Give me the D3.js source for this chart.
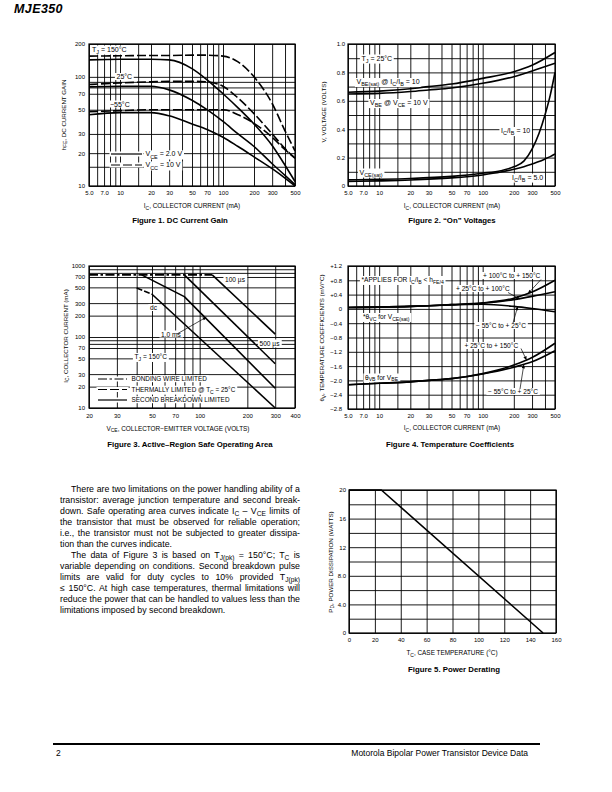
<!DOCTYPE html>
<html>
<head>
<meta charset="utf-8">
<script src="https://cdn.jsdelivr.net/npm/d3@7"></script>
<style>
body { margin: 0; background: #fff; }
text { font-family: "Liberation Sans", Arial, Helvetica, sans-serif; }
.para { position: absolute; left: 60px; top: 484px; width: 240px;
  font-family: "Liberation Sans", Arial, sans-serif; font-size: 8.8px; line-height: 11px; color: #000; }
.ln { text-align: justify; text-align-last: justify; }
.ln.last { text-align-last: left; }
.para sub { font-size: 76%; line-height: 0; vertical-align: -0.3em; }
</style>
</head>
<body>
<svg id="page" width="612" height="792"></svg>
<script>
// ---------------- data ----------------
// Figure 1 - DC current gain (IC in mA)
var icGain = [5, 10, 20, 30, 50, 70, 100, 140, 200, 300, 400, 500];
var hfe150Vce2 = [143, 145, 145, 143, 119, 94, 70, 52, 37, 23.5, 15.5, 11];
var hfe25Vce2 = [81, 82, 82, 76, 61, 50, 39, 30, 23, 16, 12.5, 10.3];
var hfeM55Vce2 = [45, 47, 47, 44, 37, 33, 28, 23, 18.5, 14.4, 11.8, 10];
var hfe150Vcc10 = [155, 156, 157, 157, 158, 158, 155, 137, 100, 57, 32, 21];
var hfe25Vcc10 = [85, 88, 90, 91, 91, 90, 82, 64, 46, 30, 22, 18];
var hfeM55Vcc10 = [48, 49, 50, 50, 50, 50, 50, 45, 37.5, 28, 21.5, 18];

// Figure 2 - "On" voltages
var icOn = [5, 10, 20, 30, 50, 100, 200, 300, 500];
var vbeSat = [0.66, 0.668, 0.685, 0.70, 0.718, 0.758, 0.805, 0.85, 0.94];
var vbeOn = [0.648, 0.652, 0.665, 0.676, 0.69, 0.723, 0.77, 0.81, 0.864];
var icSat = [5, 10, 20, 50, 100, 150, 200, 250, 300, 350, 400, 450, 500];
var vceSat10 = [0.043, 0.047, 0.053, 0.068, 0.09, 0.108, 0.135, 0.175, 0.26, 0.37, 0.5, 0.64, 0.8];
var vceSat5 = [0.032, 0.036, 0.042, 0.057, 0.078, 0.098, 0.118, 0.136, 0.155, 0.172, 0.19, 0.207, 0.225];

// Figure 3 - safe operating area (VCE volts, IC mA)
var bondV = [20, 120], bondI = [750, 750];
var dcThermV = [40, 50], dcThermI = [490, 400];
var dcV = [50, 300], dcI = [400, 10];
var ms1V = [43, 80, 300], ms1I = [750, 370, 19];
var us500V = [80, 300], us500I = [750, 42];
var us100V = [120, 300], us100I = [750, 110];

// Figure 4 - temperature coefficients (mV/°C)
var icTc = [5, 10, 20, 30, 50, 100, 200, 300, 500];
var tcVc100to150 = [0.04, 0.05, 0.07, 0.09, 0.12, 0.17, 0.3, 0.47, 0.8];
var tcVc25to100 = [0.04, 0.05, 0.07, 0.09, 0.12, 0.16, 0.26, 0.35, 0.48];
var tcVcM55to25 = [0.04, 0.05, 0.07, 0.09, 0.11, 0.13, 0.07, 0.01, -0.08];
var tcVb25to150 = [-2.12, -2.08, -2.04, -2.0, -1.95, -1.81, -1.57, -1.36, -0.96];
var tcVbM55to25 = [-2.12, -2.08, -2.04, -2.0, -1.95, -1.82, -1.63, -1.48, -1.17];

// Figure 5 - power derating
var caseTemp = [0, 25, 150];
var powerDiss = [20, 20, 0];

// grids and tick labels
var icGrid = [5, 6, 7, 8, 9, 10, 15, 20, 30, 40, 50, 60, 70, 80, 90, 100, 200, 300, 400, 500];
var icTicks = [5, 7, 10, 20, 30, 50, 70, 100, 200, 300, 500];
var icLabels = ["5.0", "7.0", "10", "20", "30", "50", "70", "100", "200", "300", "500"];
var hfeGrid = [10, 15, 20, 30, 50, 70, 80, 90, 100, 200];
var hfeTicks = [10, 20, 30, 50, 70, 100, 200];
var voltGrid = [0, 0.1, 0.2, 0.3, 0.4, 0.5, 0.6, 0.7, 0.8, 0.9, 1.0];
var voltTicks = [0, 0.2, 0.4, 0.6, 0.8, 1.0];
var voltLabels = ["0", "0.2", "0.4", "0.6", "0.8", "1.0"];
var vceGrid = [20, 30, 40, 50, 60, 70, 80, 90, 100, 200, 300, 400];
var vceTicks = [20, 30, 50, 70, 100, 200, 300, 400];
var soaGrid = [10, 20, 30, 50, 70, 80, 90, 100, 200, 300, 500, 700, 800, 900, 1000];
var soaTicks = [10, 20, 30, 50, 70, 100, 200, 300, 500, 700, 1000];
var tcGrid = [-2.8, -2.4, -2.0, -1.6, -1.2, -0.8, -0.4, 0, 0.4, 0.8, 1.2];
var tcLabels = ["\u22122.8", "\u22122.4", "\u22122.0", "\u22121.6", "\u22121.2", "\u22120.8", "\u22120.4", "0", "+0.4", "+0.8", "+1.2"];
var tempGrid = [0, 20, 40, 60, 80, 100, 120, 140, 160];
var pdGrid = [0, 2, 4, 6, 8, 10, 12, 14, 16, 18, 20];
var pdTicks = [0, 4, 8, 12, 16, 20];
var pdLabels = ["0", "4.0", "8.0", "12", "16", "20"];

var paraLines = [
  {t: "There are two limitations on the power handling ability of a", indent: true},
  {t: "transistor: average junction temperature and second break-"},
  {t: "down. Safe operating area curves indicate I<sub>C</sub> \u2013 V<sub>CE</sub> limits of"},
  {t: "the transistor that must be observed for reliable operation;"},
  {t: "i.e., the transistor must not be subjected to greater dissipa-"},
  {t: "tion than the curves indicate.", last: true},
  {t: "The data of Figure 3 is based on T<sub>J(pk)</sub> = 150\u00b0C; T<sub>C</sub> is", indent: true},
  {t: "variable depending on conditions. Second breakdown pulse"},
  {t: "limits are valid for duty cycles to 10% provided T<sub>J(pk)</sub>"},
  {t: "\u2264 150\u00b0C. At high case temperatures, thermal limitations will"},
  {t: "reduce the power that can be handled to values less than the"},
  {t: "limitations imposed by second breakdown.", last: true}
];

// ---------------- helpers ----------------
var svg = d3.select("#page");
var FONT = '"Liberation Sans", Arial, Helvetica, sans-serif';

svg.append("defs").append("marker")
  .attr("id", "arr").attr("viewBox", "0 0 10 10")
  .attr("refX", 10).attr("refY", 5)
  .attr("markerUnits", "userSpaceOnUse")
  .attr("markerWidth", 4.5).attr("markerHeight", 3.5)
  .attr("orient", "auto")
  .append("path").attr("d", "M0,0L10,5L0,10z").attr("fill", "#000");

// text with _{subscript} parts
function rich(t, str, size) {
  var back = 0;
  str.split(/(_\{[^}]*\})/).forEach(function (p) {
    if (!p) return;
    if (p.slice(0, 2) == "_{") {
      t.append("tspan").attr("dy", size * 0.3 - back).attr("font-size", size * 0.78).text(p.slice(2, -1));
      back = size * 0.3;
    } else {
      t.append("tspan").attr("dy", -back).text(p);
      back = 0;
    }
  });
}

function label(x, y, str, o) {
  o = o || {};
  var size = o.size || 6.6;
  var t = svg.append("text")
    .attr("font-size", size)
    .attr("fill", "#000")
    .attr("text-anchor", o.anchor || "start");
  if (o.bold) t.attr("font-weight", "bold");
  if (o.rotate) t.attr("transform", "translate(" + x + "," + y + ") rotate(-90)");
  else t.attr("x", x).attr("y", y);
  rich(t, str, size);
  if (o.bg) {
    var b = t.node().getBBox();
    svg.insert("rect", function () { return t.node(); })
      .attr("x", b.x - 1.6).attr("y", b.y)
      .attr("width", b.width + 3.2).attr("height", b.height)
      .attr("fill", "#fff");
  }
  return t;
}

function legendLine(x1, x2, y, dash) {
  svg.append("rect").attr("x", x1 - 1.5).attr("y", y - 2.5).attr("width", x2 - x1 + 3).attr("height", 5).attr("fill", "#fff");
  svg.append("line").attr("x1", x1).attr("x2", x2).attr("y1", y).attr("y2", y)
    .attr("stroke", "#000").attr("stroke-width", 1.2)
    .attr("stroke-dasharray", dash || null);
}

function clean(a, size) {
  a.select(".domain").remove();
  a.attr("font-size", size || 6).attr("font-family", FONT);
  a.selectAll("line").attr("stroke", "#000").attr("stroke-width", 0.9);
  a.selectAll("text").attr("fill", "#000");
}

function panel(pos, x, y, xGrid, yGrid, xTicks, xLabels, yTicks, yLabels, xPad, yPad) {
  var w = x.range()[1], h = y.range()[0];
  var g = svg.append("g").attr("transform", "translate(" + pos.left + "," + pos.top + ")");
  g.append("g").attr("transform", "translate(0," + h + ")")
    .call(d3.axisBottom(x).tickValues(xGrid).tickSize(-h).tickFormat(""))
    .call(clean);
  g.append("g")
    .call(d3.axisLeft(y).tickValues(yGrid).tickSize(-w).tickFormat(""))
    .call(clean);
  g.append("g").attr("transform", "translate(0," + h + ")")
    .call(d3.axisBottom(x).tickValues(xTicks).tickSize(0).tickPadding(xPad)
      .tickFormat(function (d, i) { return xLabels[i]; }))
    .call(clean);
  g.append("g")
    .call(d3.axisLeft(y).tickValues(yTicks).tickSize(0).tickPadding(yPad)
      .tickFormat(function (d, i) { return yLabels[i]; }))
    .call(clean);
  return g;
}

function layer(pos) {
  return svg.append("g").attr("transform", "translate(" + pos.left + "," + pos.top + ")");
}

function plot(g, x, y, xs, ys, dash, smooth) {
  var line = d3.line()
    .x(function (d) { return x(d[0]); })
    .y(function (d) { return y(d[1]); })
    .curve(smooth ? d3.curveMonotoneX : d3.curveLinear);
  g.append("path")
    .datum(xs.map(function (v, i) { return [v, ys[i]]; }))
    .attr("d", line)
    .attr("fill", "none")
    .attr("stroke", "#000")
    .attr("stroke-width", 1.6)
    .attr("stroke-linejoin", "round")
    .attr("stroke-dasharray", dash || null);
}

function frame(g, x, y) {
  g.append("rect").attr("width", x.range()[1]).attr("height", y.range()[0])
    .attr("fill", "none").attr("stroke", "#000").attr("stroke-width", 1.2);
}

// arrow from a pixel point (page) to a data point of a panel
function arrow(g, x, y, fromX, fromY, tip) {
  g.append("line")
    .attr("x1", fromX).attr("y1", fromY)
    .attr("x2", x(tip[0])).attr("y2", y(tip[1]))
    .attr("stroke", "#000").attr("stroke-width", 0.7)
    .attr("marker-end", "url(#arr)");
}

// ---------------- header ----------------
svg.append("text").attr("x", 14).attr("y", 12.5)
  .attr("font-size", 12.5).attr("font-weight", "bold").attr("font-style", "italic")
  .attr("letter-spacing", 0.4)
  .text("MJE350");

// ---------------- Figure 1 ----------------
var P1 = {left: 89, top: 44};
var x1 = d3.scaleLog().domain([5, 500]).range([0, 206]);
var y1 = d3.scaleLog().domain([10, 200]).range([142, 0]);
panel(P1, x1, y1, icGrid, hfeGrid, icTicks, icLabels, hfeTicks, hfeTicks.map(String), 4.5, 4);
label(92, 51.5, "T_{J} = 150\u00b0C", {bg: true, size: 7});
label(116.5, 79, "25\u00b0C", {bg: true, size: 7});
label(110, 106.5, "\u221255\u00b0C", {bg: true, size: 7});
legendLine(111, 142, 154);
label(145.5, 156.4, "V_{CE} = 2.0 V", {bg: true, size: 7});
legendLine(111, 142, 165, "9,3");
label(145.5, 167.4, "V_{CC} = 10 V", {bg: true, size: 7});
var c1 = layer(P1);
plot(c1, x1, y1, icGain, hfe150Vce2, null, true);
plot(c1, x1, y1, icGain, hfe25Vce2, null, true);
plot(c1, x1, y1, icGain, hfeM55Vce2, null, true);
plot(c1, x1, y1, icGain, hfe150Vcc10, "9,3", true);
plot(c1, x1, y1, icGain, hfe25Vcc10, "9,3", true);
plot(c1, x1, y1, icGain, hfeM55Vcc10, "9,3", true);
frame(c1, x1, y1);
label(65.5, 115, "h_{FE}, DC CURRENT GAIN", {rotate: true, anchor: "middle", size: 6.2});
label(192, 208, "I_{C}, COLLECTOR CURRENT (mA)", {anchor: "middle", size: 6.4});
label(180, 223, "Figure 1. DC Current Gain", {anchor: "middle", size: 7.8, bold: true});

// ---------------- Figure 2 ----------------
var P2 = {left: 348, top: 44};
var x2 = d3.scaleLog().domain([5, 500]).range([0, 207]);
var y2 = d3.scaleLinear().domain([0, 1]).range([142, 0]);
panel(P2, x2, y2, icGrid, voltGrid, icTicks, icLabels, voltTicks, voltLabels, 4.5, 3);
label(361.5, 60.5, "T_{J} = 25\u00b0C", {bg: true, size: 7});
label(356.5, 84, "V_{BE(sat)} @ I_{C}/I_{B} = 10", {bg: true, size: 7});
label(370, 105, "V_{BE} @ V_{CE} = 10 V", {bg: true, size: 7});
label(501, 133, "I_{C}/I_{B} = 10", {bg: true, size: 7});
label(359.5, 174.5, "V_{CE(sat)}", {bg: true, size: 7});
label(512, 179.5, "I_{C}/I_{B} = 5.0", {bg: true, size: 7});
var c2 = layer(P2);
plot(c2, x2, y2, icOn, vbeSat, null, true);
plot(c2, x2, y2, icOn, vbeOn, null, true);
plot(c2, x2, y2, icSat, vceSat10, null, true);
plot(c2, x2, y2, icSat, vceSat5, null, true);
frame(c2, x2, y2);
label(325.5, 112, "V, VOLTAGE (VOLTS)", {rotate: true, anchor: "middle", size: 6.2});
label(452, 208, "I_{C}, COLLECTOR CURRENT (mA)", {anchor: "middle", size: 6.4});
label(452, 223, "Figure 2. \u201cOn\u201d Voltages", {anchor: "middle", size: 7.8, bold: true});

// ---------------- Figure 3 ----------------
var P3 = {left: 89, top: 266};
var x3 = d3.scaleLog().domain([20, 400]).range([0, 206]);
var y3 = d3.scaleLog().domain([10, 1000]).range([142, 0]);
panel(P3, x3, y3, vceGrid, soaGrid, vceTicks, vceTicks.map(String), soaTicks, soaTicks.map(String), 5.5, 4);
label(225, 282, "100 \u00b5s", {bg: true});
label(150, 310, "dc", {bg: true});
label(161, 336.5, "1.0 ms", {bg: true});
label(259.5, 345.5, "500 \u00b5s", {bg: true});
label(134.5, 359, "T_{J} = 150\u00b0C", {bg: true});
legendLine(98, 127, 379, "9,2.5,2.5,2.5");
label(131.5, 381.2, "BONDING WIRE LIMITED", {bg: true, size: 6.4});
legendLine(98, 127, 389.5, "9,3");
label(131.5, 391.7, "THERMALLY LIMITED @ T_{C} = 25\u00b0C", {bg: true, size: 6.4});
legendLine(98, 127, 400);
label(131.5, 402.2, "SECOND BREAKDOWN LIMITED", {bg: true, size: 6.4});
var c3 = layer(P3);
plot(c3, x3, y3, bondV, bondI, "9,2.5,2.5,2.5");
plot(c3, x3, y3, dcThermV, dcThermI, "6,2");
plot(c3, x3, y3, dcV, dcI);
plot(c3, x3, y3, ms1V, ms1I);
plot(c3, x3, y3, us500V, us500I);
plot(c3, x3, y3, us100V, us100I);
arrow(c3, x3, y3, 177 - P3.left, 334 - P3.top, [110, 190]);
frame(c3, x3, y3);
label(67.5, 336, "I_{C}, COLLECTOR CURRENT (mA)", {rotate: true, anchor: "middle", size: 6.2});
label(178, 430.5, "V_{CE}, COLLECTOR\u2212EMITTER VOLTAGE (VOLTS)", {anchor: "middle", size: 6.4});
label(190, 447, "Figure 3. Active\u2013Region Safe Operating Area", {anchor: "middle", size: 7.8, bold: true});

// ---------------- Figure 4 ----------------
var P4 = {left: 348, top: 266};
var x4 = d3.scaleLog().domain([5, 500]).range([0, 207]);
var y4 = d3.scaleLinear().domain([-2.8, 1.2]).range([143, 0]);
panel(P4, x4, y4, icGrid, tcGrid, icTicks, icLabels, tcGrid, tcLabels, 4.5, 6);
label(361.5, 282, "*APPLIES FOR I_{C}/I_{B} < h_{FE/4}", {bg: true});
label(483, 278, "+ 100\u00b0C to + 150\u00b0C", {bg: true});
label(456, 291, "+ 25\u00b0C to + 100\u00b0C", {bg: true});
label(363, 319, "*\u03b8_{VC} for V_{CE(sat)}", {bg: true});
label(476, 328, "\u2212 55\u00b0C to + 25\u00b0C", {bg: true});
label(464.5, 348, "+ 25\u00b0C to + 150\u00b0C", {bg: true});
label(365, 379.5, "\u03b8_{VB} for V_{BE}", {bg: true});
label(488, 394, "\u2212 55\u00b0C to + 25\u00b0C", {bg: true});
var c4 = layer(P4);
plot(c4, x4, y4, icTc, tcVc100to150, null, true);
plot(c4, x4, y4, icTc, tcVc25to100, null, true);
plot(c4, x4, y4, icTc, tcVcM55to25, null, true);
plot(c4, x4, y4, icTc, tcVb25to150, null, true);
plot(c4, x4, y4, icTc, tcVbM55to25, null, true);
arrow(c4, x4, y4, 541 - P4.left, 279.5 - P4.top, [275, 0.43]);
arrow(c4, x4, y4, 508 - P4.left, 292.5 - P4.top, [228, 0.28]);
arrow(c4, x4, y4, 513 - P4.left, 323 - P4.top, [218, 0.065]);
arrow(c4, x4, y4, 521 - P4.left, 348.5 - P4.top, [265, -1.43]);
arrow(c4, x4, y4, 520 - P4.left, 389 - P4.top, [250, -1.56]);
frame(c4, x4, y4);
label(324, 338, "\u03b8_{V}, TEMPERATURE COEFFICIENTS (mV/\u00b0C)", {rotate: true, anchor: "middle", size: 6.2});
label(452, 430, "I_{C}, COLLECTOR CURRENT (mA)", {anchor: "middle", size: 6.4});
label(450, 447, "Figure 4. Temperature Coefficients", {anchor: "middle", size: 7.8, bold: true});

// ---------------- text ----------------
d3.select("body").append("div").attr("class", "para")
  .selectAll("div").data(paraLines).join("div")
  .attr("class", function (d) { return d.last ? "ln last" : "ln"; })
  .style("text-indent", function (d) { return d.indent ? "11px" : null; })
  .html(function (d) { return d.t; });

// ---------------- Figure 5 ----------------
var P5 = {left: 349, top: 490};
var x5 = d3.scaleLinear().domain([0, 160]).range([0, 207]);
var y5 = d3.scaleLinear().domain([0, 20]).range([143, 0]);
panel(P5, x5, y5, tempGrid, pdGrid, tempGrid, tempGrid.map(String), pdTicks, pdLabels, 5, 3);
var c5 = layer(P5);
plot(c5, x5, y5, caseTemp, powerDiss);
frame(c5, x5, y5);
label(332.5, 562, "P_{D}, POWER DISSIPATION (WATTS)", {rotate: true, anchor: "middle", size: 6.2});
label(452, 655, "T_{C}, CASE TEMPERATURE (\u00b0C)", {anchor: "middle", size: 6.4});
label(454, 672, "Figure 5. Power Derating", {anchor: "middle", size: 7.8, bold: true});

// ---------------- footer ----------------
svg.append("line").attr("x1", 53).attr("x2", 540).attr("y1", 744).attr("y2", 744)
  .attr("stroke", "#000").attr("stroke-width", 1.8);
svg.append("text").attr("x", 56).attr("y", 755.5).attr("font-size", 8.5).text("2");
svg.append("text").attr("x", 528).attr("y", 755.5).attr("font-size", 8.5)
  .attr("text-anchor", "end").text("Motorola Bipolar Power Transistor Device Data");
</script>
</body>
</html>
